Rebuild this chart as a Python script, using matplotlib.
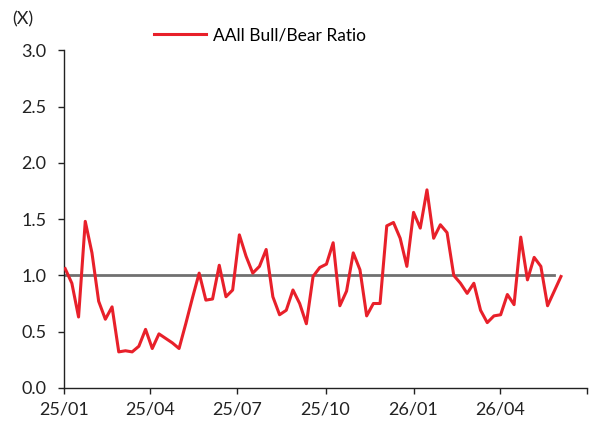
import numpy as np
import pandas as pd
import matplotlib
matplotlib.use("Agg")
import matplotlib.pyplot as plt

plt.rcParams['font.family'] = ['Lato', 'DejaVu Sans']

# weekly AAII bull/bear ratio
ratio = [1.06, 0.93, 0.63, 1.48, 1.20, 0.77, 0.61, 0.72, 0.32, 0.33,
         0.32, 0.37, 0.52, 0.35, 0.48, 0.44, 0.40, 0.35, 0.57, 0.80,
         1.02, 0.78, 0.79, 1.09, 0.81, 0.87, 1.36, 1.17, 1.02, 1.08,
         1.23, 0.81, 0.65, 0.69, 0.87, 0.75, 0.57, 0.99, 1.07, 1.10,
         1.29, 0.73, 0.86, 1.20, 1.05, 0.64, 0.75, 0.75, 1.44, 1.47,
         1.33, 1.08, 1.56, 1.42, 1.76, 1.33, 1.45, 1.38, 1.00, 0.93,
         0.84, 0.93, 0.69, 0.58, 0.64, 0.65, 0.83, 0.74, 1.34, 0.96,
         1.16, 1.08, 0.73, 0.86, 0.99]
dates = pd.date_range('2025-01-02', periods=len(ratio), freq='7D')
ref_level = 1.0

tick_dates = pd.to_datetime(['2025-01-01', '2025-04-01', '2025-07-01', '2025-10-01',
                             '2026-01-01', '2026-04-01', '2026-07-01'])
tick_labels = ['25/01', '25/04', '25/07', '25/10', '26/01', '26/04', '']

fig = plt.figure(figsize=(6, 4.23), dpi=100)
ax = fig.add_axes([0.107, 0.083, 0.871, 0.798])

ax.plot(dates, ratio, color='#E8202A', lw=2.2, label='AAll Bull/Bear Ratio', zorder=3)
ax.plot(dates[:-1], [ref_level] * (len(dates) - 1), color='#707070', lw=2, zorder=2)

ax.set_xlim(tick_dates[0], tick_dates[-1])
ax.set_ylim(0, 3.0)
yt = np.arange(0, 3.01, 0.5)
ax.set_yticks(yt)
ax.set_yticklabels([f'{v:.1f}' for v in yt])
ax.set_xticks(tick_dates)
ax.set_xticklabels(tick_labels)

for s in ['top', 'right']:
    ax.spines[s].set_visible(False)
for s in ['left', 'bottom']:
    ax.spines[s].set_linewidth(1)
    ax.spines[s].set_color('#222222')
ax.tick_params(axis='both', labelsize=13, colors='#222222', length=4, width=1)
ax.tick_params(axis='x', pad=6)
ax.tick_params(axis='y', pad=9)

fig.text(0.02, 0.955, '(X)', fontsize=13, color='#222222', va='center')
ax.legend(loc='upper center', bbox_to_anchor=(0.375, 1.115), frameon=False,
          fontsize=12.5, handlelength=3, handletextpad=0.4)

fig.savefig('out.png', dpi=100)
